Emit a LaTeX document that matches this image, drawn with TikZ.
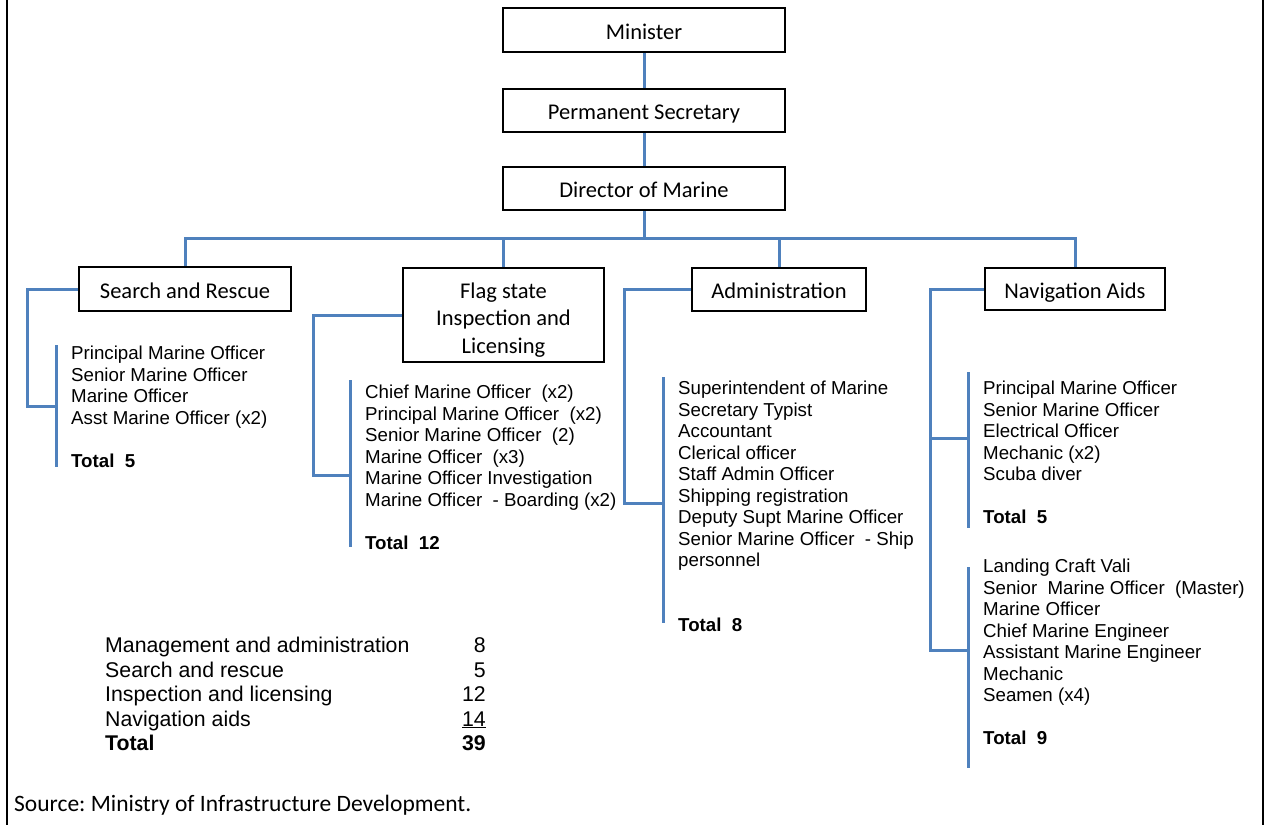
\documentclass[tikz,border=0pt]{standalone}
\usepackage{fontspec}
\setmainfont{Carlito}
\newfontfamily\listfont{Liberation Sans}
\definecolor{linkblue}{HTML}{4F81BD}
\frenchspacing

\tikzstyle{postbox}=[draw=black,line width=2pt,fill=white,inner sep=0pt,text height=20pt,text depth=1.5pt,font=\fontsize{22.5}{27.5}\selectfont]
\tikzstyle{link}=[draw,line width=3pt,linkblue]
\tikzstyle{staff list}=[anchor=north west,inner sep=0pt,align=left,font=\listfont\fontsize{18.7}{21.5}\selectfont]
\tikzstyle{table text}=[inner sep=0pt,font=\listfont\fontsize{21.3}{24.5}\selectfont]

\begin{document}
\begin{tikzpicture}[x=1pt,y=-1pt]
\useasboundingbox (0,0) rectangle (1265,825);
% side rules of the frame
\draw[line width=2.5pt] (7,0) -- (7,825) (1263,0) -- (1263,825);

% head of the chart
\node[postbox,minimum width=282,minimum height=44] (min) at (644,30) {Minister};
\node[postbox,minimum width=282,minimum height=43] (ps) at (644,110.5) {Permanent Secretary};
\node[postbox,minimum width=282,minimum height=43] (dir) at (644,188.5) {Director of Marine};

% the four sections
\node[postbox,minimum width=212,minimum height=44] (sar) at (185,289) {Search and Rescue};
\node[postbox,text height=,text depth=,minimum width=201,minimum height=94,align=center] (flag) at (503.5,315) {\rule{0pt}{25pt}Flag state\\Inspection and\\Licensing};
\node[postbox,minimum width=174,minimum height=43] (admin) at (779,289.5) {Administration};
\node[postbox,minimum width=180,minimum height=42] (nav) at (1075,289) {Navigation Aids};

% staff of each section
\node[staff list] (sarlist) at (71,346) {Principal Marine Officer\\Senior Marine Officer\\Marine Officer\\Asst Marine Officer (x2)\\[21.5pt]\textbf{Total\ \ 5}};
\node[staff list] (flaglist) at (365,385) {Chief Marine Officer\ \ (x2)\\Principal Marine Officer\ \ (x2)\\Senior Marine Officer\ \ (2)\\Marine Officer\ \ (x3)\\Marine Officer Investigation\\Marine Officer\ \ - Boarding (x2)\\[21.5pt]\textbf{Total\ \ 12}};
\node[staff list] (adminlist) at (678,381) {Superintendent of Marine\\Secretary Typist\\Accountant\\Clerical officer\\Staff Admin Officer\\Shipping registration\\Deputy Supt Marine Officer\\Senior Marine Officer\ \ - Ship\\personnel\\[43pt]\textbf{Total\ \ 8}};
\node[staff list] (navlist) at (983,381) {Principal Marine Officer\\Senior Marine Officer\\Electrical Officer\\Mechanic (x2)\\Scuba diver\\[21.5pt]\textbf{Total\ \ 5}};
\node[staff list] (craftlist) at (983,559) {Landing Craft Vali\\Senior\ \ Marine Officer\ \ (Master)\\Marine Officer\\Chief Marine Engineer\\Assistant Marine Engineer\\Mechanic\\Seamen (x4)\\[21.5pt]\textbf{Total\ \ 9}};

% brackets beside the lists
\coordinate (sarT) at (56,345);    \coordinate (sarB) at (56,467);    \coordinate (sarJ) at (27,406);
\coordinate (flagT) at (350,380);  \coordinate (flagB) at (350,547);  \coordinate (flagJ) at (313,475);
\coordinate (adminT) at (663,377); \coordinate (adminB) at (663,623); \coordinate (adminJ) at (624,503);
\coordinate (navT) at (968,372);   \coordinate (navB) at (968,528);   \coordinate (navJ) at (930,438);
\coordinate (craftT) at (968,567); \coordinate (craftB) at (968,768); \coordinate (craftJ) at (930,650);

% Connect the head and the sections
\path[link] (min) -- (ps);
\path[link] (ps) -- (dir);
\coordinate (bus) at (644,238);
\foreach \dest in {sar,flag,admin,nav}
    \path[link] (dir.south) -- (bus) -| (\dest.north);

% Connect the sections with their lists
\foreach \source/ \dest in {sarT/sarB,flagT/flagB,adminT/adminB,navT/navB,craftT/craftB}
    \path[link] (\source) -- (\dest);
\foreach \source/ \dest in {sar/sar,flag/flag,admin/admin,nav/craft}
    \path[link] (\source.west) -| (\dest J) -- (\dest J -| \dest T);
\path[link] (navJ) -- (navT |- navJ);

% totals
\foreach \row/\lbl/\num in {0/Management and administration/8,1/Search and rescue/5,2/Inspection and licensing/12,3/Navigation aids/\underline{14},4/\textbf{Total}/\textbf{39}}
{
    \node[table text,anchor=base west] (item\row) at (105,652.5+24.5*\row) {\lbl};
    \node[table text,anchor=base east] (count\row) at (486,652.5+24.5*\row) {\num};
}

\node[inner sep=0pt,anchor=base west,font=\fontsize{23.5}{27}\selectfont] (source) at (14,811) {Source: Ministry of Infrastructure Development.};
\end{tikzpicture}
\end{document}
